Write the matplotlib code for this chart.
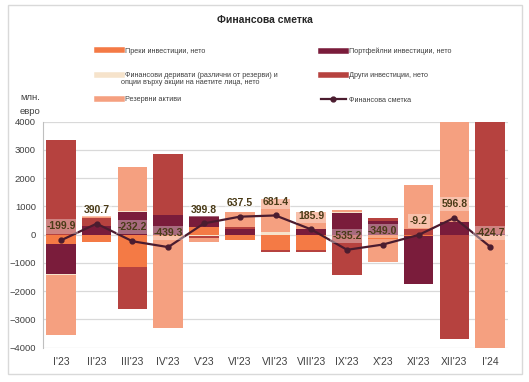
import matplotlib
matplotlib.use('Agg')
import matplotlib.pyplot as plt
import numpy as np
from matplotlib.lines import Line2D
from matplotlib.patches import Rectangle

plt.rcParams['font.family'] = ['Liberation Sans', 'DejaVu Sans']

months = ["I'23", "II'23", "III'23", "IV'23", "V'23", "VI'23", "VII'23",
          "VIII'23", "IX'23", "X'23", "XI'23", "XII'23", "I'24"]

# components, млн. евро
direct = [-340, -260, -1150, -50, 270, -180, -540, -555, 0, -150, -55, 0, 0]
portfolio = [-1060, 310, 800, 700, 390, 200, 0, 210, 780, 480, -1700, 450, 25]
derivatives = [-30, 0, 50, 0, -40, 0, 80, 0, 30, 20, 0, 0, 0]
other = [3360, 280, -1490, 2170, -90, 60, -60, -60, -1420, 100, 210, -3680, 4050]
reserves = [-2130, 60, 1550, -3260, -130, 560, 1200, 590, 70, -800, 1535, 3830, -4500]
financial_account = [-199.9, 390.7, -232.2, -439.3, 399.8, 637.5, 681.4,
                     185.9, -535.2, -349.0, -9.2, 596.8, -424.7]

names = ['Преки инвестиции, нето', 'Портфейлни инвестиции, нето',
         'Финансови деривати (различни от резерви) и',
         'Други инвестиции, нето', 'Резервни активи']
colors = ['#F47A45', '#7A1C3B', '#F6E3CB', '#B6423F', '#F5A080']
line_color = '#4B1C2F'

fig = plt.figure(figsize=(5.29, 3.82), dpi=100)
ax = fig.add_axes([43 / 529, 1 - 347.7 / 382, 465 / 529, 226 / 382])

x = np.arange(len(months))
pos_base = np.zeros(len(months))
neg_base = np.zeros(len(months))
for vals, c in zip([direct, portfolio, derivatives, other, reserves], colors):
    v = np.array(vals, dtype=float)
    base = np.where(v >= 0, pos_base, neg_base)
    ax.bar(x, v, bottom=base, width=0.83, color=c, zorder=2)
    pos_base += np.clip(v, 0, None)
    neg_base += np.clip(v, None, 0)

ax.plot(x, financial_account, color=line_color, lw=1.6, marker='o', ms=3.5, zorder=4)
for xi, yi in zip(x, financial_account):
    ax.annotate('%.1f' % yi, (xi, yi), xytext=(0, 10), textcoords='offset points',
                ha='center', va='center', fontsize=7.5, fontweight='bold', color='#4A3B17',
                bbox=dict(boxstyle='square,pad=0.2', fc='white', ec='none', alpha=0.35),
                zorder=5)

ax.set_xlim(-0.5, 12.5)
ax.set_ylim(-4000, 4000)
ax.set_yticks(range(-4000, 4001, 1000))
ax.set_xticks(x)
ax.set_xticklabels(months)
ax.yaxis.grid(True, color='#D9D9D9', lw=0.9)
ax.set_axisbelow(True)
for s in ['top', 'right', 'bottom']:
    ax.spines[s].set_visible(False)
ax.spines['left'].set_color('#BFBFBF')
ax.tick_params(axis='y', length=0, labelsize=6.8, colors='#404040', pad=5)
ax.tick_params(axis='x', length=0, labelsize=7.5, colors='#404040', pad=7)

fig.text(0.5, 1 - 20 / 382, 'Финансова сметка', ha='center', va='center',
         fontsize=7.5, fontweight='bold', color='#262626')
fig.text(20 / 529, 1 - 97 / 382, 'млн.', fontsize=6.8, color='#404040', va='center')
fig.text(20 / 529, 1 - 111 / 382, 'евро', fontsize=6.8, color='#404040', va='center')

left_h = [Line2D([], [], color=colors[0], lw=4),
          Line2D([], [], color=colors[2], lw=4),
          Line2D([], [], color=colors[4], lw=4)]
left_l = [names[0], names[2], names[4]]
right_h = [Line2D([], [], color=colors[1], lw=4),
           Line2D([], [], color=colors[3], lw=4),
           Line2D([], [], color=line_color, lw=1.6, marker='o', ms=3.5)]
right_l = [names[1], names[3], 'Финансова сметка']
leg_kw = dict(frameon=False, fontsize=5.2, handlelength=3.5, handletextpad=0.4,
              labelspacing=2.4, borderpad=0, loc='upper left', labelcolor='#404040')
fig.legend(left_h, left_l, bbox_to_anchor=(93 / 529, 1 - 44 / 382), **leg_kw)
fig.legend(right_h, right_l, bbox_to_anchor=(317 / 529, 1 - 44 / 382), **leg_kw)
fig.text(121 / 529, 1 - 82.5 / 382, 'опции върху акции на наетите лица, нето',
         fontsize=5.2, color='#404040', va='center')

fig.patches.append(Rectangle((8 / 529, 1 - 374 / 382), 514 / 529, 369 / 382,
                             transform=fig.transFigure, fill=False,
                             ec='#D9D9D9', lw=1))

fig.savefig('out.png', dpi=100)
